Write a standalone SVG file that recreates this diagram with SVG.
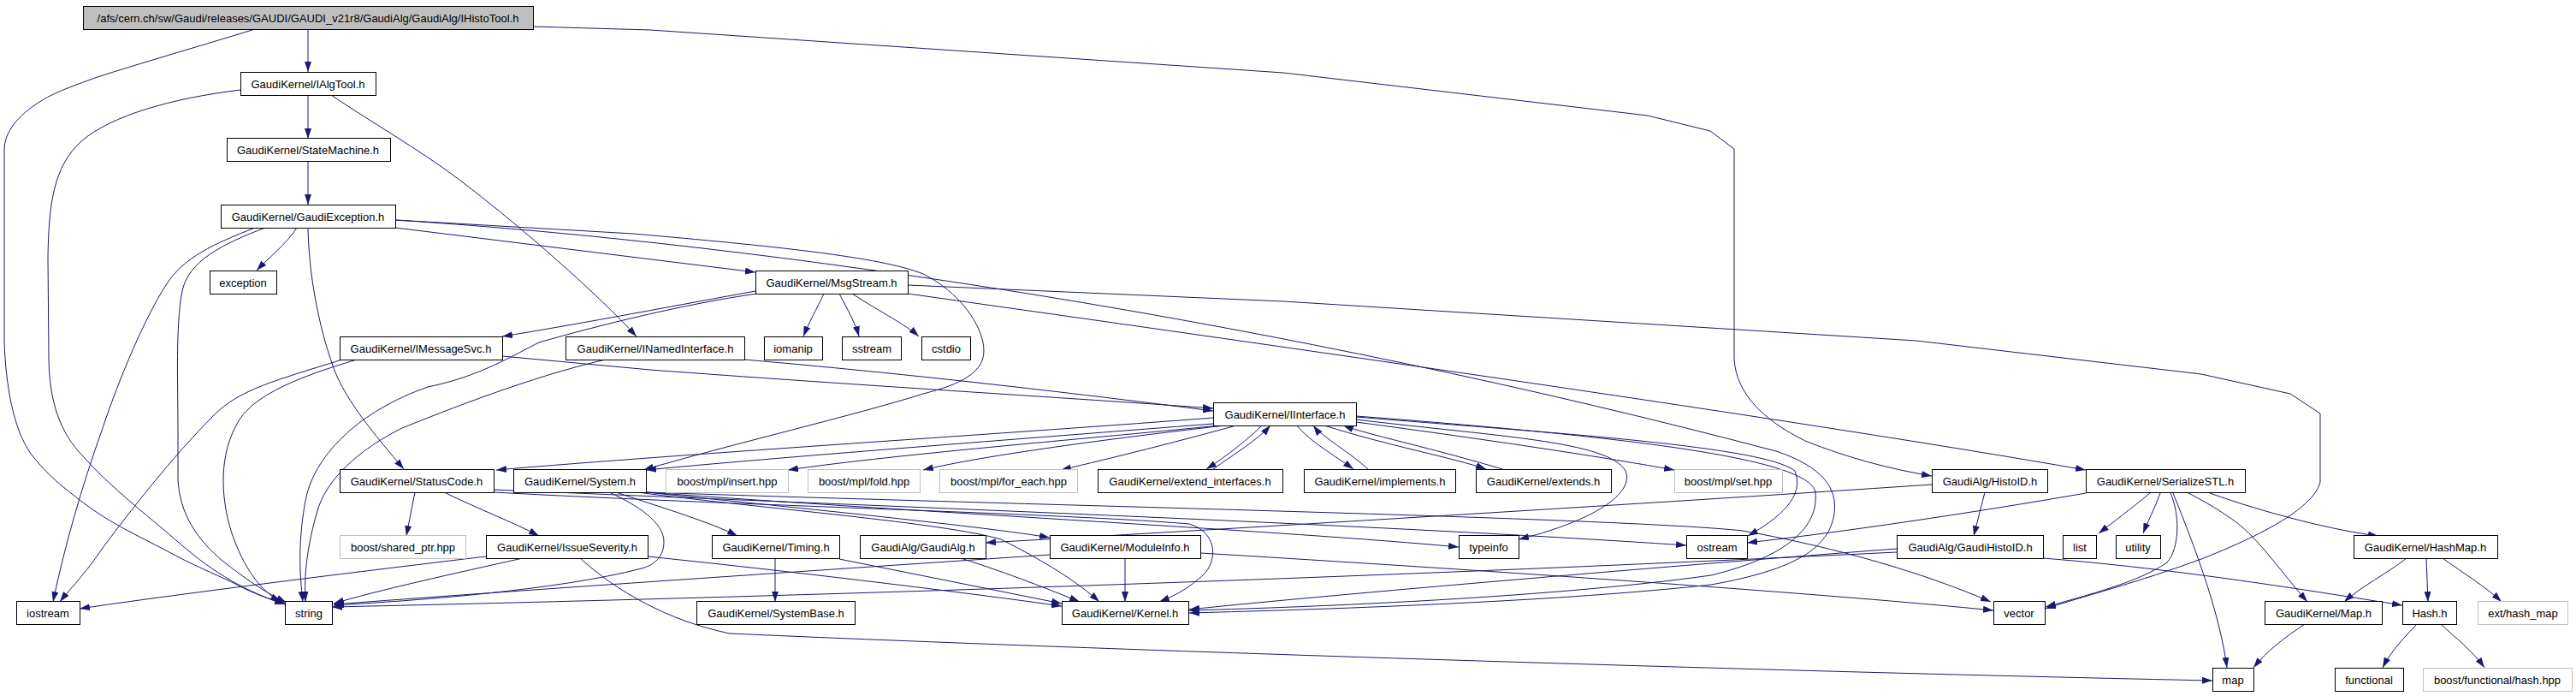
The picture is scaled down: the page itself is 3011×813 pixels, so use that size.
<svg xmlns="http://www.w3.org/2000/svg" width="3011" height="813" viewBox="0 0 3011 813">
<style>
.n rect{fill:#fff;stroke:#000;stroke-width:1}
.g rect{stroke:#bfbfbf}
.root rect{fill:#bfbfbf}
text{font-family:"Liberation Sans",Arial,sans-serif;font-size:13px;text-anchor:middle;fill:#000}
.e path{fill:none;stroke:#191970;stroke-width:1;marker-end:url(#a)}
</style>
<defs>
<marker id="a" markerUnits="userSpaceOnUse" markerWidth="12" markerHeight="8" refX="12" refY="4" orient="auto">
<path d="M0,0 L12,4 L0,8 z" fill="#191970"/>
</marker>
</defs>
<rect width="3011" height="813" fill="#fff"/>
<g class="e" id="edges">
<path d="M360,34 L360,84"/>
<path d="M298,34 C230,55 160,75 114,90 C80,102 60,110 48,118 C20,135 5,155 5,175 L5,400 C7,450 15,500 36,530 C55,555 75,570 97,587 C130,612 160,625 194,643 C225,660 250,670 271,680 C290,690 305,697 333,705"/>
<path d="M623,31 L760,35 L1500,85 L1926,135 L1999,153 L2027,174 L2027,420 C2030,460 2060,490 2110,515 C2160,535 2210,548 2258,556"/>
<path d="M360,111 L360,162"/>
<path d="M281,105 C200,115 130,135 95,165 C62,195 57,240 56,300 L57,420 C58,470 70,505 97,533 C130,570 170,600 208,633 C250,670 290,692 333,706"/>
<path d="M387,111 C430,140 490,175 533,207 C610,265 700,345 744,393"/>
<path d="M360,188 L360,239"/>
<path d="M347,266 C335,285 315,300 300,316"/>
<path d="M298,266 C250,285 215,300 194,333 C170,370 140,440 120,500 C95,570 75,640 62,703"/>
<path d="M310,266 C260,285 220,305 213,340 C205,380 208,450 208,500 L208,560 C210,600 230,630 260,655 C285,675 310,692 335,704"/>
<path d="M360,266 C361,320 372,380 390,430 C405,470 440,510 472,548"/>
<path d="M462,266 L883,318"/>
<path d="M462,257 L740,273 C900,287 1030,300 1079,320 C1120,340 1150,380 1150,410 C1150,440 1110,452 1079,460 C1000,485 850,520 752,549"/>
<path d="M462,257 C900,285 1500,375 2076,527 C2130,545 2148,570 2144,600 C2138,640 2100,665 2000,683 C1800,705 1500,713 1390,716"/>
<path d="M883,340 C800,355 680,378 587,393"/>
<path d="M885,343 C800,355 700,380 630,400 C600,415 560,440 500,452 C420,480 370,530 358,580 C348,630 350,670 354,703"/>
<path d="M963,343 C955,360 945,378 939,393"/>
<path d="M981,343 C990,360 1000,378 1004,393"/>
<path d="M996,343 C1030,365 1060,380 1074,393"/>
<path d="M1061,333 L1500,352 L2240,398 L2573,437 L2677,460 L2712,483 L2712,563 C2707,585 2670,615 2573,653 C2500,680 2430,698 2391,711"/>
<path d="M1061,343 C1500,405 2100,490 2438,549"/>
<path d="M587,416 L760,432 C1000,450 1300,468 1418,477"/>
<path d="M400,420 C320,445 280,455 250,485 C200,535 150,600 120,640 C100,670 80,690 70,703"/>
<path d="M417,420 C350,440 300,460 280,490 C255,530 258,580 270,620 C285,665 305,690 328,703"/>
<path d="M870,420 C1100,440 1300,465 1418,480"/>
<path d="M708,420 C620,440 520,480 470,500 C420,525 380,560 370,600 C356,650 356,680 357,703"/>
<path d="M1418,488 C1200,505 800,530 580,549"/>
<path d="M1418,495 C1200,512 900,535 755,549"/>
<path d="M1425,497 C1300,510 1050,530 921,549"/>
<path d="M1432,497 C1300,512 1150,532 1079,549"/>
<path d="M1445,497 C1380,515 1300,535 1240,549"/>
<path d="M1475,497 C1460,512 1435,532 1410,548"/>
<path d="M1418,548 C1440,532 1470,514 1485,497"/>
<path d="M1516,497 C1530,515 1560,532 1582,548"/>
<path d="M1599,548 C1580,530 1545,510 1535,497"/>
<path d="M1548,497 C1620,520 1700,535 1737,548"/>
<path d="M1756,548 C1680,525 1600,508 1570,497"/>
<path d="M1585,493 C1750,515 1880,535 1957,549"/>
<path d="M1585,490 C1750,510 1880,515 1900,550 C1912,580 1850,612 1775,630"/>
<path d="M1585,487 C1800,505 2060,520 2098,550 C2110,580 2080,605 2043,626"/>
<path d="M1585,486 C1900,510 2115,535 2122,575 C2126,615 2090,650 2000,672 C1800,700 1500,710 1390,713"/>
<path d="M485,575 C482,590 478,610 475,626"/>
<path d="M519,575 C560,595 600,610 630,626"/>
<path d="M577,572 C1000,590 1600,612 1971,637"/>
<path d="M577,575 C850,590 1250,600 1390,612 C1425,622 1425,660 1400,677 C1385,690 1370,697 1355,703"/>
<path d="M720,575 C780,595 830,610 862,626"/>
<path d="M755,575 C950,595 1150,615 1227,628"/>
<path d="M745,575 C900,595 1100,610 1170,630 C1220,655 1260,680 1285,703"/>
<path d="M712,575 C745,590 776,610 776,633 C776,650 765,660 750,664 C650,690 480,702 390,707"/>
<path d="M755,575 C1200,590 1900,605 2037,620 C2150,640 2250,670 2327,703"/>
<path d="M755,575 C1100,600 1500,620 1705,639"/>
<path d="M757,650 C950,670 1150,695 1241,708"/>
<path d="M611,652 C530,670 440,690 390,705"/>
<path d="M568,650 C400,670 200,695 93,711"/>
<path d="M678,652 C720,690 780,725 853,740 C1300,760 2100,785 2586,795"/>
<path d="M906,652 L906,703"/>
<path d="M981,653 L1241,705"/>
<path d="M1123,652 C1180,670 1230,690 1262,703"/>
<path d="M1315,652 L1315,703"/>
<path d="M1227,648 C900,670 600,690 390,706"/>
<path d="M1403,646 C1800,670 2150,695 2330,713"/>
<path d="M2258,566 C1900,590 1400,620 1152,634"/>
<path d="M2320,575 L2307,626"/>
<path d="M2217,641 C1900,665 1500,700 1390,712"/>
<path d="M2217,645 C1500,680 800,700 388,709"/>
<path d="M2388,652 C2550,665 2700,690 2808,707"/>
<path d="M2513,576 C2490,595 2470,610 2453,623"/>
<path d="M2525,576 C2518,595 2510,610 2505,623"/>
<path d="M2537,576 C2548,600 2548,640 2533,657 C2500,680 2440,695 2391,709"/>
<path d="M2540,576 C2570,650 2595,720 2603,780"/>
<path d="M2558,576 C2585,590 2600,600 2614,610 C2640,630 2660,660 2697,703"/>
<path d="M2583,576 C2650,600 2730,620 2780,626"/>
<path d="M2438,576 C2300,600 2150,622 2042,634"/>
<path d="M2813,652 C2790,670 2760,685 2740,703"/>
<path d="M2836,652 L2838,703"/>
<path d="M2855,652 C2880,670 2905,685 2924,703"/>
<path d="M2694,729 C2670,745 2650,760 2634,780"/>
<path d="M2825,729 C2810,745 2795,760 2785,780"/>
<path d="M2853,729 C2870,745 2890,760 2904,780"/>
</g>
<g id="n0" class="n root"><rect x="97.5" y="7.5" width="526" height="27"/><text x="360" y="25.5">/afs/cern.ch/sw/Gaudi/releases/GAUDI/GAUDI_v21r8/GaudiAlg/GaudiAlg/IHistoTool.h</text></g>
<g id="n1" class="n"><rect x="281.5" y="84.5" width="158" height="27"/><text x="360" y="102.5">GaudiKernel/IAlgTool.h</text></g>
<g id="n2" class="n"><rect x="265.5" y="161.5" width="191" height="27"/><text x="360" y="179.5">GaudiKernel/StateMachine.h</text></g>
<g id="n3" class="n"><rect x="258.5" y="239.5" width="204" height="27"/><text x="360" y="257.5">GaudiKernel/GaudiException.h</text></g>
<g id="n4" class="n"><rect x="245.5" y="316.5" width="78" height="27"/><text x="284" y="334.5">exception</text></g>
<g id="n5" class="n"><rect x="883.5" y="316.5" width="178" height="27"/><text x="972" y="334.5">GaudiKernel/MsgStream.h</text></g>
<g id="n6" class="n"><rect x="397.5" y="393.5" width="190" height="27"/><text x="492" y="411.5">GaudiKernel/IMessageSvc.h</text></g>
<g id="n7" class="n"><rect x="661.5" y="393.5" width="209" height="27"/><text x="766" y="411.5">GaudiKernel/INamedInterface.h</text></g>
<g id="n8" class="n"><rect x="893.5" y="393.5" width="68" height="27"/><text x="927" y="411.5">iomanip</text></g>
<g id="n9" class="n"><rect x="984.5" y="393.5" width="69" height="27"/><text x="1019" y="411.5">sstream</text></g>
<g id="n10" class="n"><rect x="1077.5" y="393.5" width="57" height="27"/><text x="1106" y="411.5">cstdio</text></g>
<g id="n11" class="n"><rect x="1418.5" y="470.5" width="167" height="27"/><text x="1502" y="488.5">GaudiKernel/IInterface.h</text></g>
<g id="n12" class="n"><rect x="397.5" y="548.5" width="180" height="27"/><text x="487" y="566.5">GaudiKernel/StatusCode.h</text></g>
<g id="n13" class="n"><rect x="600.5" y="548.5" width="155" height="27"/><text x="678" y="566.5">GaudiKernel/System.h</text></g>
<g id="n14" class="n g"><rect x="778.5" y="548.5" width="143" height="27"/><text x="850" y="566.5">boost/mpl/insert.hpp</text></g>
<g id="n15" class="n g"><rect x="944.5" y="548.5" width="131" height="27"/><text x="1010" y="566.5">boost/mpl/fold.hpp</text></g>
<g id="n16" class="n g"><rect x="1098.5" y="548.5" width="161" height="27"/><text x="1179" y="566.5">boost/mpl/for_each.hpp</text></g>
<g id="n17" class="n"><rect x="1283.5" y="548.5" width="216" height="27"/><text x="1391" y="566.5">GaudiKernel/extend_interfaces.h</text></g>
<g id="n18" class="n"><rect x="1524.5" y="548.5" width="177" height="27"/><text x="1613" y="566.5">GaudiKernel/implements.h</text></g>
<g id="n19" class="n"><rect x="1725.5" y="548.5" width="158" height="27"/><text x="1804" y="566.5">GaudiKernel/extends.h</text></g>
<g id="n20" class="n g"><rect x="1957.5" y="548.5" width="126" height="27"/><text x="2020" y="566.5">boost/mpl/set.hpp</text></g>
<g id="n21" class="n"><rect x="2258.5" y="548.5" width="135" height="27"/><text x="2326" y="566.5">GaudiAlg/HistoID.h</text></g>
<g id="n22" class="n"><rect x="2438.5" y="548.5" width="186" height="27"/><text x="2531" y="566.5">GaudiKernel/SerializeSTL.h</text></g>
<g id="n23" class="n g"><rect x="397.5" y="625.5" width="147" height="27"/><text x="471" y="643.5">boost/shared_ptr.hpp</text></g>
<g id="n24" class="n"><rect x="568.5" y="625.5" width="189" height="27"/><text x="663" y="643.5">GaudiKernel/IssueSeverity.h</text></g>
<g id="n25" class="n"><rect x="832.5" y="625.5" width="149" height="27"/><text x="907" y="643.5">GaudiKernel/Timing.h</text></g>
<g id="n26" class="n"><rect x="1005.5" y="625.5" width="147" height="27"/><text x="1079" y="643.5">GaudiAlg/GaudiAlg.h</text></g>
<g id="n27" class="n"><rect x="1227.5" y="625.5" width="176" height="27"/><text x="1315" y="643.5">GaudiKernel/ModuleInfo.h</text></g>
<g id="n28" class="n"><rect x="1705.5" y="625.5" width="70" height="27"/><text x="1740" y="643.5">typeinfo</text></g>
<g id="n29" class="n"><rect x="1971.5" y="625.5" width="71" height="27"/><text x="2007" y="643.5">ostream</text></g>
<g id="n30" class="n"><rect x="2217.5" y="625.5" width="171" height="27"/><text x="2303" y="643.5">GaudiAlg/GaudiHistoID.h</text></g>
<g id="n31" class="n"><rect x="2411.5" y="625.5" width="39" height="27"/><text x="2431" y="643.5">list</text></g>
<g id="n32" class="n"><rect x="2473.5" y="625.5" width="52" height="27"/><text x="2499" y="643.5">utility</text></g>
<g id="n33" class="n"><rect x="2751.5" y="625.5" width="168" height="27"/><text x="2835" y="643.5">GaudiKernel/HashMap.h</text></g>
<g id="n34" class="n"><rect x="19.5" y="702.5" width="74" height="27"/><text x="56" y="720.5">iostream</text></g>
<g id="n35" class="n"><rect x="333.5" y="702.5" width="55" height="27"/><text x="361" y="720.5">string</text></g>
<g id="n36" class="n"><rect x="814.5" y="702.5" width="185" height="27"/><text x="907" y="720.5">GaudiKernel/SystemBase.h</text></g>
<g id="n37" class="n"><rect x="1241.5" y="702.5" width="148" height="27"/><text x="1315" y="720.5">GaudiKernel/Kernel.h</text></g>
<g id="n38" class="n"><rect x="2330.5" y="702.5" width="60" height="27"/><text x="2360" y="720.5">vector</text></g>
<g id="n39" class="n"><rect x="2647.5" y="702.5" width="137" height="27"/><text x="2716" y="720.5">GaudiKernel/Map.h</text></g>
<g id="n40" class="n"><rect x="2808.5" y="702.5" width="63" height="27"/><text x="2840" y="720.5">Hash.h</text></g>
<g id="n41" class="n g"><rect x="2896.5" y="702.5" width="105" height="27"/><text x="2949" y="720.5">ext/hash_map</text></g>
<g id="n42" class="n"><rect x="2586.5" y="780.5" width="48" height="27"/><text x="2610" y="798.5">map</text></g>
<g id="n43" class="n"><rect x="2729.5" y="780.5" width="80" height="27"/><text x="2769" y="798.5">functional</text></g>
<g id="n44" class="n g"><rect x="2832.5" y="780.5" width="174" height="27"/><text x="2919" y="798.5">boost/functional/hash.hpp</text></g>
</svg>
